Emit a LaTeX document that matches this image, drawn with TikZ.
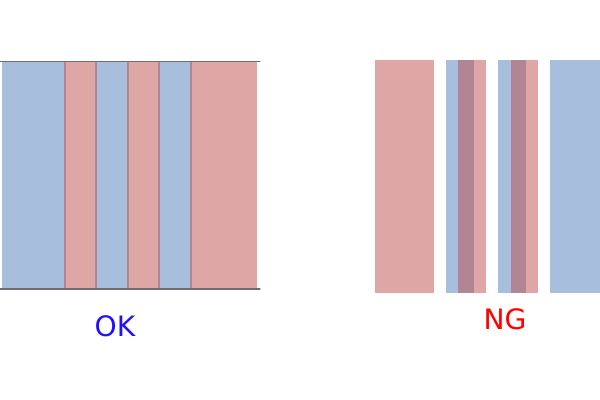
\documentclass[tikz,border=0pt]{standalone}
\usepackage{fontspec}
\setmainfont{DejaVu Sans}

\begin{document}
\begin{tikzpicture}[x=0.025cm,y=-0.025cm,line cap=round,line join=round]

% Colors
\definecolor{stripblue}{RGB}{79,127,185}
\definecolor{stripred}{RGB}{191,77,77}
\definecolor{okblue}{RGB}{32,16,255}
\definecolor{ngred}{RGB}{255,0,0}
\definecolor{framegray}{RGB}{110,110,110}

% Styles
\tikzset{
  bluestrip/.style={fill=stripblue,fill opacity=0.5,draw=none},
  redstrip/.style={fill=stripred,fill opacity=0.5,draw=none},
  verdict/.style={font=\fontsize{20}{24}\selectfont,inner sep=0pt}
}

\useasboundingbox (0,0) rectangle (600,400);

% Left panel: strips side by side
\foreach \xa/\xb in {2/66,95/129,158/192} {
  \fill[bluestrip] (\xa,61.5) rectangle (\xb,289);
}
\foreach \xa/\xb in {64/97,127/160,190/257} {
  \fill[redstrip] (\xa,61.5) rectangle (\xb,289);
}

% Frame lines of left panel
\draw[draw=framegray,line width=0.8pt] (0,61.5) -- (260,61.5);
\draw[draw=framegray,line width=0.8pt] (0,289) -- (260,289);

% Right panel: strips with gaps and overlaps
\fill[redstrip] (375,60) rectangle (434,293);
\foreach \xa/\xb in {446/474,498/526,550/600} {
  \fill[bluestrip] (\xa,60) rectangle (\xb,293);
}
\foreach \xa/\xb in {458/486,511/538} {
  \fill[redstrip] (\xa,60) rectangle (\xb,293);
}

% Labels
\node[verdict,text=okblue] (ok) at (115,326) {OK};
\node[verdict,text=ngred] (ng) at (505,319) {NG};

\end{tikzpicture}
\end{document}
